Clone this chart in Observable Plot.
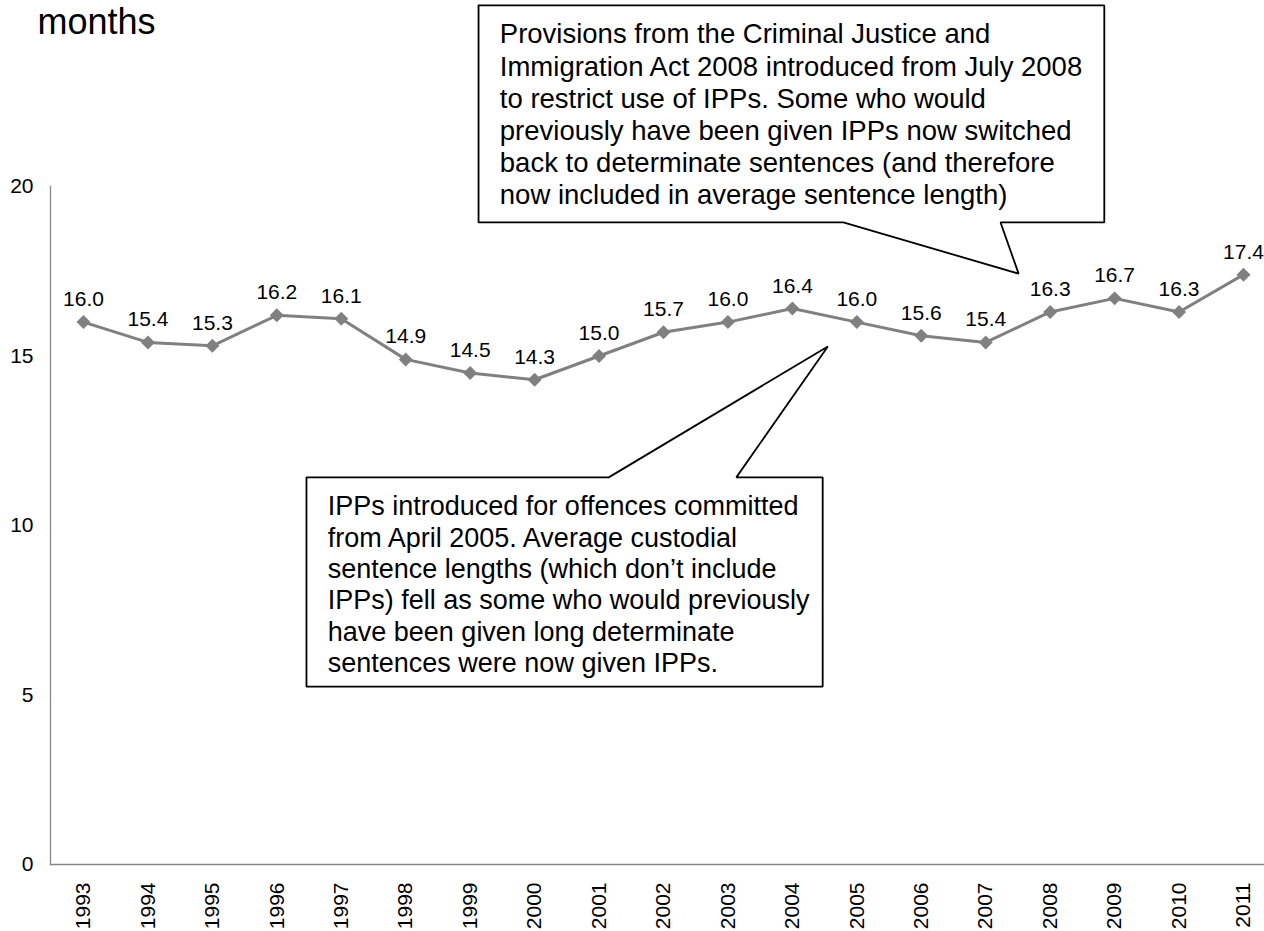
<!DOCTYPE html>
<html>
<head>
<meta charset="utf-8">
<script src="https://cdn.jsdelivr.net/npm/d3@7"></script>
<script src="https://cdn.jsdelivr.net/npm/@observablehq/plot@0.6"></script>
<style>
  body { margin: 0; background: #fff; }
  #chart svg { display: block; }
</style>
</head>
<body>
<div id="chart"></div>
<script>
// ---- data ----
const years = [1993, 1994, 1995, 1996, 1997, 1998, 1999, 2000, 2001, 2002, 2003, 2004, 2005, 2006, 2007, 2008, 2009, 2010, 2011];
const sentenceMonths = [16.0, 15.4, 15.3, 16.2, 16.1, 14.9, 14.5, 14.3, 15.0, 15.7, 16.0, 16.4, 16.0, 15.6, 15.4, 16.3, 16.7, 16.3, 17.4];
const yTicks = [0, 5, 10, 15, 20];
const unitLabel = "months";

// callout 1 (upper): outline in (year, months) coordinates
const note1X = [1999.13, 1999.13, 2004.79, 2007.51, 2007.23, 2008.84, 2008.84, 1999.13];
const note1Y = [25.34, 18.94, 18.94, 17.43, 18.94, 18.94, 25.34, 25.34];
const note1Anchor = {year: 1999.46, months: 24.89};
const note1Text = "Provisions from the Criminal Justice and\nImmigration Act 2008 introduced from July 2008\nto restrict use of IPPs. Some who would\npreviously have been given IPPs now switched\nback to determinate sentences (and therefore\nnow included in average sentence length)";

// callout 2 (lower): outline in (year, months) coordinates
const note2X = [1996.46, 1996.46, 2001.15, 2004.55, 2003.13, 2004.47, 2004.47, 1996.46];
const note2Y = [5.25, 11.42, 11.42, 15.28, 11.42, 11.42, 5.25, 5.25];
const note2Anchor = {year: 1996.79, months: 10.96};
const note2Text = "IPPs introduced for offences committed\nfrom April 2005. Average custodial\nsentence lengths (which don\u2019t include\nIPPs) fell as some who would previously\nhave been given long determinate\nsentences were now given IPPs.";

// ---- build tables ----
const series = years.map((y, i) => ({year: y, value: sentenceMonths[i]}));
const note1Path = note1X.map((x, i) => ({x, y: note1Y[i]}));
const note2Path = note2X.map((x, i) => ({x, y: note2Y[i]}));

const font = "'Liberation Sans', Arial, Helvetica, sans-serif";

const chart = Plot.plot({
  width: 1264,
  height: 931,
  marginLeft: 50,
  marginRight: 0,
  marginTop: 186,
  marginBottom: 67,
  style: {fontFamily: font, fontSize: "21px", color: "#000", background: "#fff", overflow: "visible"},
  x: {type: "linear", domain: [1993, 2011], insetLeft: 33, insetRight: 21, label: null},
  y: {domain: [0, 20], label: null},
  marks: [
    Plot.frame({anchor: "left", stroke: "#868686", strokeWidth: 1.3}),
    Plot.frame({anchor: "bottom", stroke: "#868686", strokeWidth: 1.3}),
    Plot.axisY({ticks: yTicks, tickSize: 0, tickPadding: 17, tickFormat: d => `${d}`, fontSize: 21, label: null}),
    Plot.axisX({ticks: years, tickSize: 0, tickPadding: 18, tickRotate: -90, tickFormat: d => `${d}`, fontSize: 21, label: null}),
    Plot.line(series, {x: "year", y: "value", stroke: "#808080", strokeWidth: 3, curve: "linear"}),
    Plot.dot(series, {x: "year", y: "value", symbol: "diamond2", r: 6.3, fill: "#808080", stroke: "none"}),
    Plot.text(series, {x: "year", y: "value", text: d => d.value.toFixed(1), lineAnchor: "bottom", dy: -16, fontSize: 21, fill: "#000"}),
    // callouts
    Plot.line(note1Path, {x: "x", y: "y", stroke: "#000", strokeWidth: 1.8, strokeLinejoin: "miter", curve: "linear"}),
    Plot.line(note2Path, {x: "x", y: "y", stroke: "#000", strokeWidth: 1.8, strokeLinejoin: "miter", curve: "linear"}),
    Plot.text([note1Text], {x: () => note1Anchor.year, y: () => note1Anchor.months, text: d => d, textAnchor: "start", lineAnchor: "top", lineHeight: 1.165, fontSize: 27.5, fill: "#000"}),
    Plot.text([note2Text], {x: () => note2Anchor.year, y: () => note2Anchor.months, text: d => d, textAnchor: "start", lineAnchor: "top", lineHeight: 1.163, fontSize: 27, fill: "#000"}),
    // unit label at top-left
    Plot.text([unitLabel], {frameAnchor: "top-left", text: d => d, textAnchor: "start", lineAnchor: "bottom", dx: -13, dy: -153, fontSize: 36, fill: "#000"})
  ]
});
document.getElementById("chart").appendChild(chart);
</script>
</body>
</html>
